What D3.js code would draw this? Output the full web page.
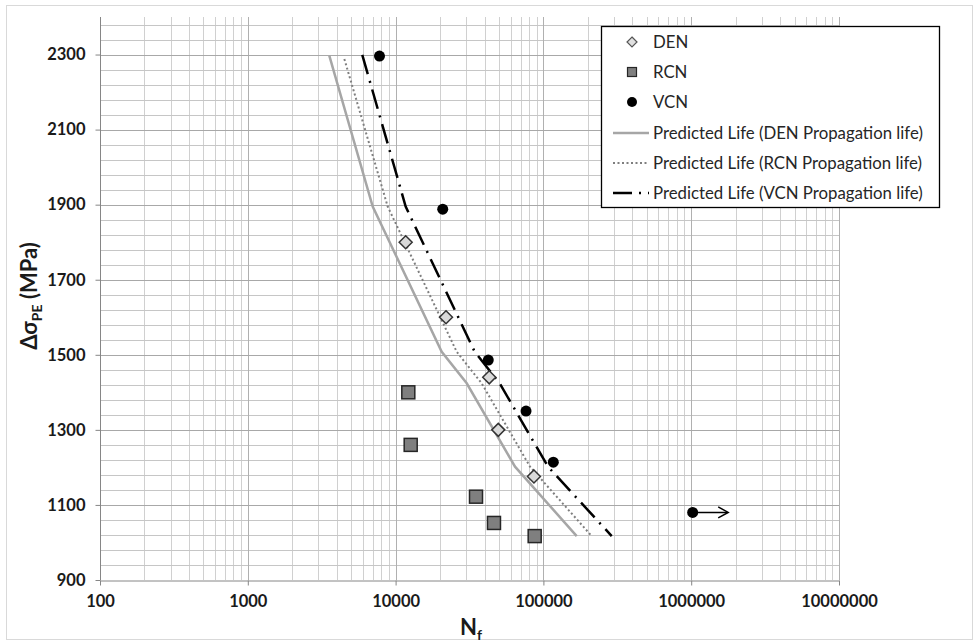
<!DOCTYPE html>
<html><head><meta charset="utf-8">
<script src="https://cdn.jsdelivr.net/npm/d3@7"></script>
<style>
html,body{margin:0;padding:0;background:#fff;}
svg{display:block;}
</style></head>
<body>
<svg id="chart" width="974" height="643"></svg>
<script>
// ---- data ----
const xTickValues = [100, 1000, 10000, 100000, 1000000, 10000000];
const xTickLabels = ["100", "1000", "10000", "100000", "1000000", "10000000"];
const yTickValues = [900, 1100, 1300, 1500, 1700, 1900, 2100, 2300];
const yTickLabels = ["900", "1100", "1300", "1500", "1700", "1900", "2100", "2300"];

const denN = [11700, 21930, 43000, 49500, 86300];
const denS = [1800, 1600, 1440, 1300, 1176];
const rcnN = [12190, 12650, 35000, 46300, 87300];
const rcnS = [1400, 1260, 1122, 1052, 1017];
const vcnN = [7780, 20840, 42370, 76300, 116700, 1023000];
const vcnS = [2296, 1888, 1486, 1350, 1214, 1080];
const runoutN = [1023000, 1780000];   // arrow on run-out specimen
const runoutS = [1080, 1080];

const predDenN = [3560, 7000, 20510, 30280, 64270, 168000];
const predDenS = [2297, 1895, 1508, 1424, 1202, 1017];
const predRcnN = [4500, 8840, 25910, 38230, 81180, 212300];
const predRcnS = [2288, 1895, 1508, 1424, 1202, 1017];
const predVcnN = [5950, 11700, 34290, 50610, 107400, 289900];
const predVcnS = [2299, 1895, 1508, 1424, 1202, 1017];

const legendLabels = ["DEN", "RCN", "VCN",
  "Predicted Life (DEN Propagation life)",
  "Predicted Life (RCN Propagation life)",
  "Predicted Life (VCN Propagation life)"];

// ---- layout ----
const svg = d3.select("#chart");
const FONT = "Lato, 'Open Sans', sans-serif";
const L = 100, R = 839, T = 17, B = 580;
const x = d3.scaleLog().domain([100, 1e7]).range([L, R]);
const y = d3.scaleLinear().domain([900, 2400]).range([B, T]);

// chart border
svg.append("rect").attr("x", 6.5).attr("y", 5.5).attr("width", 966).attr("height", 634)
  .attr("fill", "#fff").attr("stroke", "#d9d9d9").attr("stroke-width", 1);

// grid
const g = svg.append("g");
const minorX = [];
for (let d = 100; d < 1e7; d *= 10) for (let k = 2; k <= 9; k++) minorX.push(d * k);
g.selectAll(".mx").data(minorX).join("line")
  .attr("x1", d => Math.round(x(d)) + 0.5).attr("x2", d => Math.round(x(d)) + 0.5)
  .attr("y1", T).attr("y2", B).attr("stroke", "#d0d0d0").attr("stroke-width", 1);
const minorY = d3.range(940, 2400, 40).filter(v => (v - 900) % 200 !== 0);
g.selectAll(".my").data(minorY).join("line")
  .attr("y1", d => Math.round(y(d)) + 0.5).attr("y2", d => Math.round(y(d)) + 0.5)
  .attr("x1", L).attr("x2", R).attr("stroke", "#c6c6c6").attr("stroke-width", 1);
g.selectAll(".MX").data(xTickValues.slice(1)).join("line")
  .attr("x1", d => Math.round(x(d)) + 0.5).attr("x2", d => Math.round(x(d)) + 0.5)
  .attr("y1", T).attr("y2", B).attr("stroke", "#b0b0b0").attr("stroke-width", 1);
g.selectAll(".MY").data(yTickValues.slice(1)).join("line")
  .attr("y1", d => Math.round(y(d)) + 0.5).attr("y2", d => Math.round(y(d)) + 0.5)
  .attr("x1", L).attr("x2", R).attr("stroke", "#a8a8a8").attr("stroke-width", 1);

// axes
const xAxis = d3.axisBottom(x).tickValues(xTickValues).tickFormat((d, i) => xTickLabels[i])
  .tickSizeInner(5).tickSizeOuter(0).tickPadding(10);
const yAxis = d3.axisLeft(y).tickValues(yTickValues).tickFormat((d, i) => yTickLabels[i])
  .tickSizeInner(5).tickSizeOuter(0).tickPadding(10);
const gx = svg.append("g").attr("transform", `translate(0,${B + 0.5})`).call(xAxis);
const gy = svg.append("g").attr("transform", `translate(${L + 0.5},0)`).call(yAxis);
[gx, gy].forEach(a => {
  a.select(".domain").attr("stroke", "#868686");
  a.selectAll(".tick line").attr("stroke", "#868686");
  a.selectAll("text").attr("font-family", FONT).attr("font-size", 16.5)
    .attr("font-weight", "bold").attr("fill", "#1a1a1a");
});
gy.select(".domain").attr("d", `M0,${B}V${T}`);

// axis titles
const xt = svg.append("text").attr("x", 460).attr("y", 635)
  .attr("font-family", FONT).attr("font-weight", "bold").attr("font-size", 22).attr("fill", "#1a1a1a");
xt.append("tspan").text("N");
xt.append("tspan").attr("font-size", 14).attr("dy", 5).text("f");

const yt = svg.append("text").attr("transform", "translate(37,296) rotate(-90)")
  .attr("text-anchor", "middle")
  .attr("font-family", FONT).attr("font-weight", "bold").attr("font-size", 22).attr("fill", "#1a1a1a");
yt.append("tspan").text("Δσ");
yt.append("tspan").attr("font-size", 14).attr("dy", 5).text("PE");
yt.append("tspan").attr("dy", -5).text(" (MPa)");

// predicted lines
const line = d3.line().x(d => x(d[0])).y(d => y(d[1]));
const plot = svg.append("g");
plot.append("path").datum(d3.zip(predDenN, predDenS)).attr("d", line)
  .attr("fill", "none").attr("stroke", "#a6a6a6").attr("stroke-width", 2.5);
plot.append("path").datum(d3.zip(predRcnN, predRcnS)).attr("d", line)
  .attr("fill", "none").attr("stroke", "#7f7f7f").attr("stroke-width", 2).attr("stroke-dasharray", "2,2.5");
plot.append("path").datum(d3.zip(predVcnN, predVcnS)).attr("d", line)
  .attr("fill", "none").attr("stroke", "#000").attr("stroke-width", 2.5).attr("stroke-dasharray", "20,7,2,7");

// markers
const diamond = r => `M0,${-r}L${r},0L0,${r}L${-r},0Z`;
plot.selectAll(".rcn").data(d3.zip(rcnN, rcnS)).join("rect")
  .attr("x", d => x(d[0]) - 6.5).attr("y", d => y(d[1]) - 6.5).attr("width", 13).attr("height", 13)
  .attr("fill", "#7f7f7f").attr("stroke", "#262626").attr("stroke-width", 1.5);
plot.selectAll(".den").data(d3.zip(denN, denS)).join("path")
  .attr("transform", d => `translate(${x(d[0])},${y(d[1])})`).attr("d", diamond(6.5))
  .attr("fill", "#d9d9d9").attr("stroke", "#333").attr("stroke-width", 1.5);
plot.selectAll(".vcn").data(d3.zip(vcnN, vcnS)).join("circle")
  .attr("cx", d => x(d[0])).attr("cy", d => y(d[1])).attr("r", 5.5).attr("fill", "#000");
// arrow
const ax1 = x(runoutN[0]), ax2 = x(runoutN[1]), ay = y(runoutS[0]);
plot.append("line").attr("x1", ax1).attr("x2", ax2 - 1).attr("y1", ay).attr("y2", ay)
  .attr("stroke", "#000").attr("stroke-width", 1.5);
plot.append("path").attr("d", `M${ax2 - 10},${ay - 5.5}L${ax2},${ay}L${ax2 - 10},${ay + 5.5}`)
  .attr("fill", "none").attr("stroke", "#000").attr("stroke-width", 1.5);

// legend
const lg = svg.append("g");
lg.append("rect").attr("x", 601.5).attr("y", 26.5).attr("width", 338).attr("height", 181)
  .attr("fill", "#fff").attr("stroke", "#000").attr("stroke-width", 1.3);
const ly = [42, 72, 102, 133, 163, 193];
const mx = 632;
lg.append("path").attr("transform", `translate(${mx},${ly[0]})`).attr("d", diamond(5))
  .attr("fill", "#e0e0e0").attr("stroke", "#555").attr("stroke-width", 1.2);
lg.append("rect").attr("x", mx - 4.5).attr("y", ly[1] - 4.5).attr("width", 9).attr("height", 9)
  .attr("fill", "#7f7f7f").attr("stroke", "#262626").attr("stroke-width", 1.2);
lg.append("circle").attr("cx", mx).attr("cy", ly[2]).attr("r", 5).attr("fill", "#000");
lg.append("line").attr("x1", 613).attr("x2", 649).attr("y1", ly[3]).attr("y2", ly[3])
  .attr("stroke", "#a6a6a6").attr("stroke-width", 2.5);
lg.append("line").attr("x1", 613).attr("x2", 649).attr("y1", ly[4]).attr("y2", ly[4])
  .attr("stroke", "#7f7f7f").attr("stroke-width", 2).attr("stroke-dasharray", "2,2.5");
lg.append("line").attr("x1", 613).attr("x2", 649).attr("y1", ly[5]).attr("y2", ly[5])
  .attr("stroke", "#000").attr("stroke-width", 2.5).attr("stroke-dasharray", "19,7,2,7");
lg.selectAll(".lt").data(legendLabels).join("text")
  .attr("x", 653).attr("y", (d, i) => ly[i] + 6)
  .attr("font-family", FONT).attr("font-size", 16.8).attr("fill", "#262626").text(d => d);
</script>
</body></html>
